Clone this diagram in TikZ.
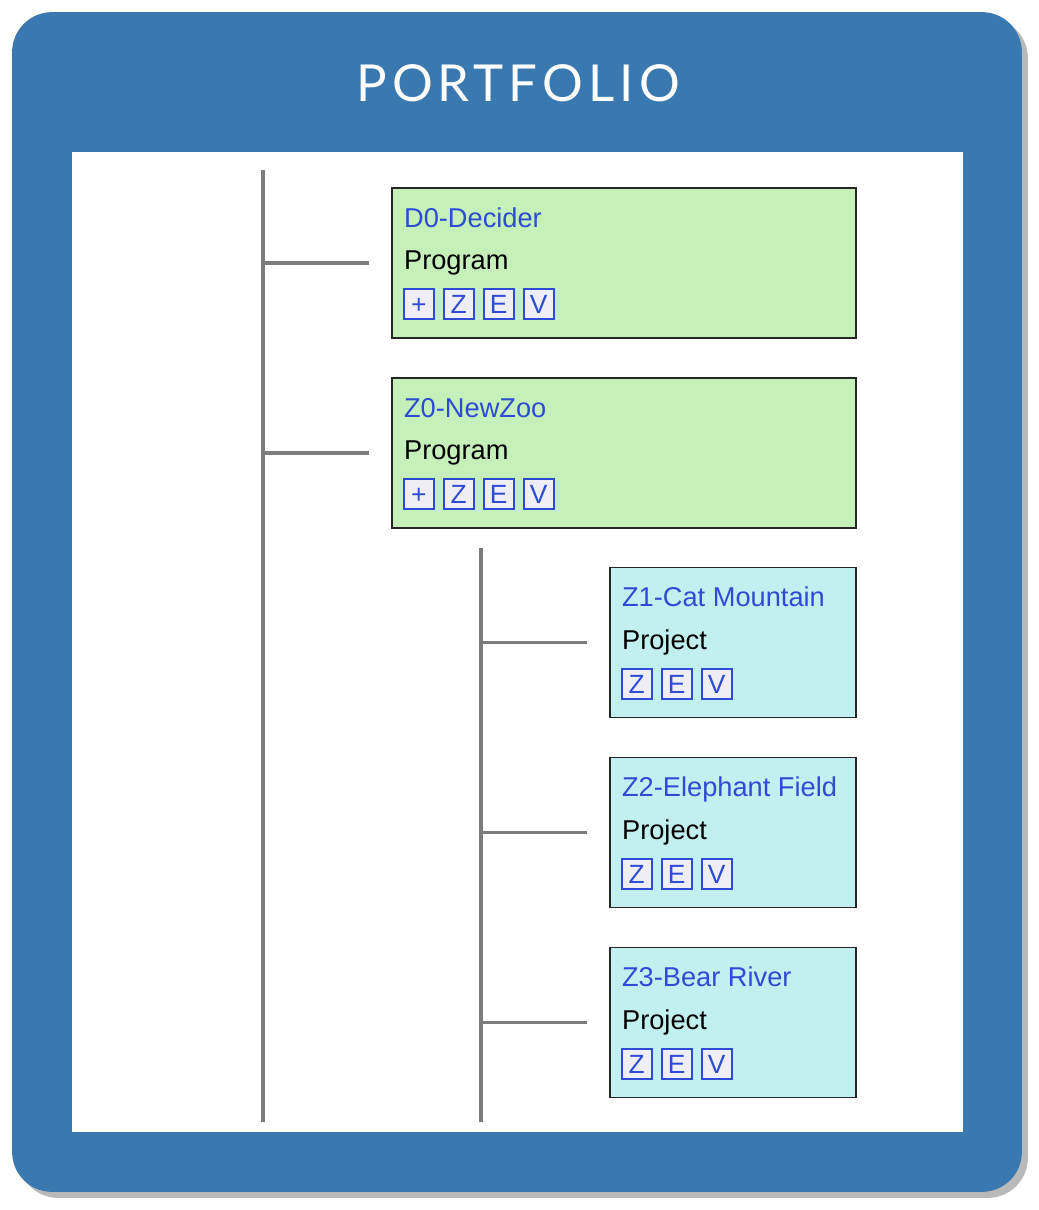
\documentclass[tikz,border=0pt]{standalone}
\usepackage{fontspec}
\setmainfont{Liberation Sans}
\newfontfamily\titlefont[LetterSpace=10]{Lato}
\usetikzlibrary{positioning,shadows}

\definecolor{panelblue}{HTML}{3A78B0}
\definecolor{linegray}{HTML}{7C7C7C}
\definecolor{programgreen}{HTML}{C5F0B9}
\definecolor{projectcyan}{HTML}{C2EFF0}
\definecolor{namelink}{HTML}{2E4BD4}
\definecolor{iconfill}{HTML}{EEEEF4}

\tikzset{
  panel/.style={fill=panelblue, rounded corners=0.8cm, minimum width=20.2cm, minimum height=23.6cm,
    drop shadow={shadow xshift=0.12cm, shadow yshift=-0.12cm, fill=gray, opacity=.55}},
  sheet/.style={fill=white, minimum width=17.82cm, minimum height=19.6cm},
  titletext/.style={text=white, font=\titlefont\fontsize{29}{32}\selectfont},
  link/.style={draw=linegray, line width=1.8pt},
  card/.style={draw=black!85, line width=0.9pt, minimum height=3cm},
  program/.style={card, fill=programgreen, minimum width=9.28cm},
  project/.style={card, fill=projectcyan, minimum width=4.92cm},
  cardtitle/.style={anchor=base west, inner sep=0pt, text=namelink, font=\fontsize{15.5}{17}\selectfont},
  cardtype/.style={anchor=base west, inner sep=0pt, font=\fontsize{15.5}{17}\selectfont},
  iconbox/.style={draw=namelink, fill=iconfill, line width=1.1pt, minimum size=0.6cm, inner sep=0pt,
    text height=11pt, text depth=0pt, text=namelink, font=\fontsize{15}{17}\selectfont}
}

% title, type and buttons inside a card
\newcommand{\cardtext}[4]{%
  \node[cardtitle] (#1-title) at ([xshift=0.25cm,yshift=-0.8cm]#1.north west) {#2};
  \node[cardtype] (#1-type) at ([xshift=0.25cm,yshift=-1.65cm]#1.north west) {#3};
  \foreach \k [count=\i from 0] in {#4}
    \node[iconbox] (#1-icon\i) at ([xshift=0.55cm+\i*0.8cm,yshift=-2.34cm]#1.north west) {\k};
}

\begin{document}
\begin{tikzpicture}[x=0.02cm,y=-0.02cm]
  \useasboundingbox (0,0) rectangle (1038,1210);
  \node[panel] (panel) at (517,602) {};
  \node[titletext] (title) at (518,83) {PORTFOLIO};
  \node[sheet] (sheet) at (517.5,642) {};

  % programs
  \node[program] (d0) at (624,263) {};
  \node[program] (z0) at (624,453) {};
  \cardtext{d0}{D0-Decider}{Program}{+,Z,E,V}
  \cardtext{z0}{Z0-NewZoo}{Program}{+,Z,E,V}

  % projects
  \node[project] (z1) at (733,642.5) {};
  \node[project] (z2) at (733,832.5) {};
  \node[project] (z3) at (733,1022.5) {};
  \cardtext{z1}{Z1-Cat Mountain}{Project}{Z,E,V}
  \cardtext{z2}{Z2-Elephant Field}{Project}{Z,E,V}
  \cardtext{z3}{Z3-Bear River}{Project}{Z,E,V}

  % tree lines
  \coordinate (trunk) at (263,170);
  \coordinate (trunkend) at (263,1122);
  \coordinate (subtrunk) at (481,548);
  \coordinate (subtrunkend) at (481,1122);
  \draw[link] (trunk) -- (trunkend);
  \draw[link] (subtrunk) -- (subtrunkend);
  \foreach \n in {d0,z0}
    \draw[link] (trunk |- \n.west) -- ([xshift=-0.44cm]\n.west);
  \foreach \n in {z1,z2,z3}
    \draw[link] (subtrunk |- \n.west) -- ([xshift=-0.44cm]\n.west);
\end{tikzpicture}
\end{document}
